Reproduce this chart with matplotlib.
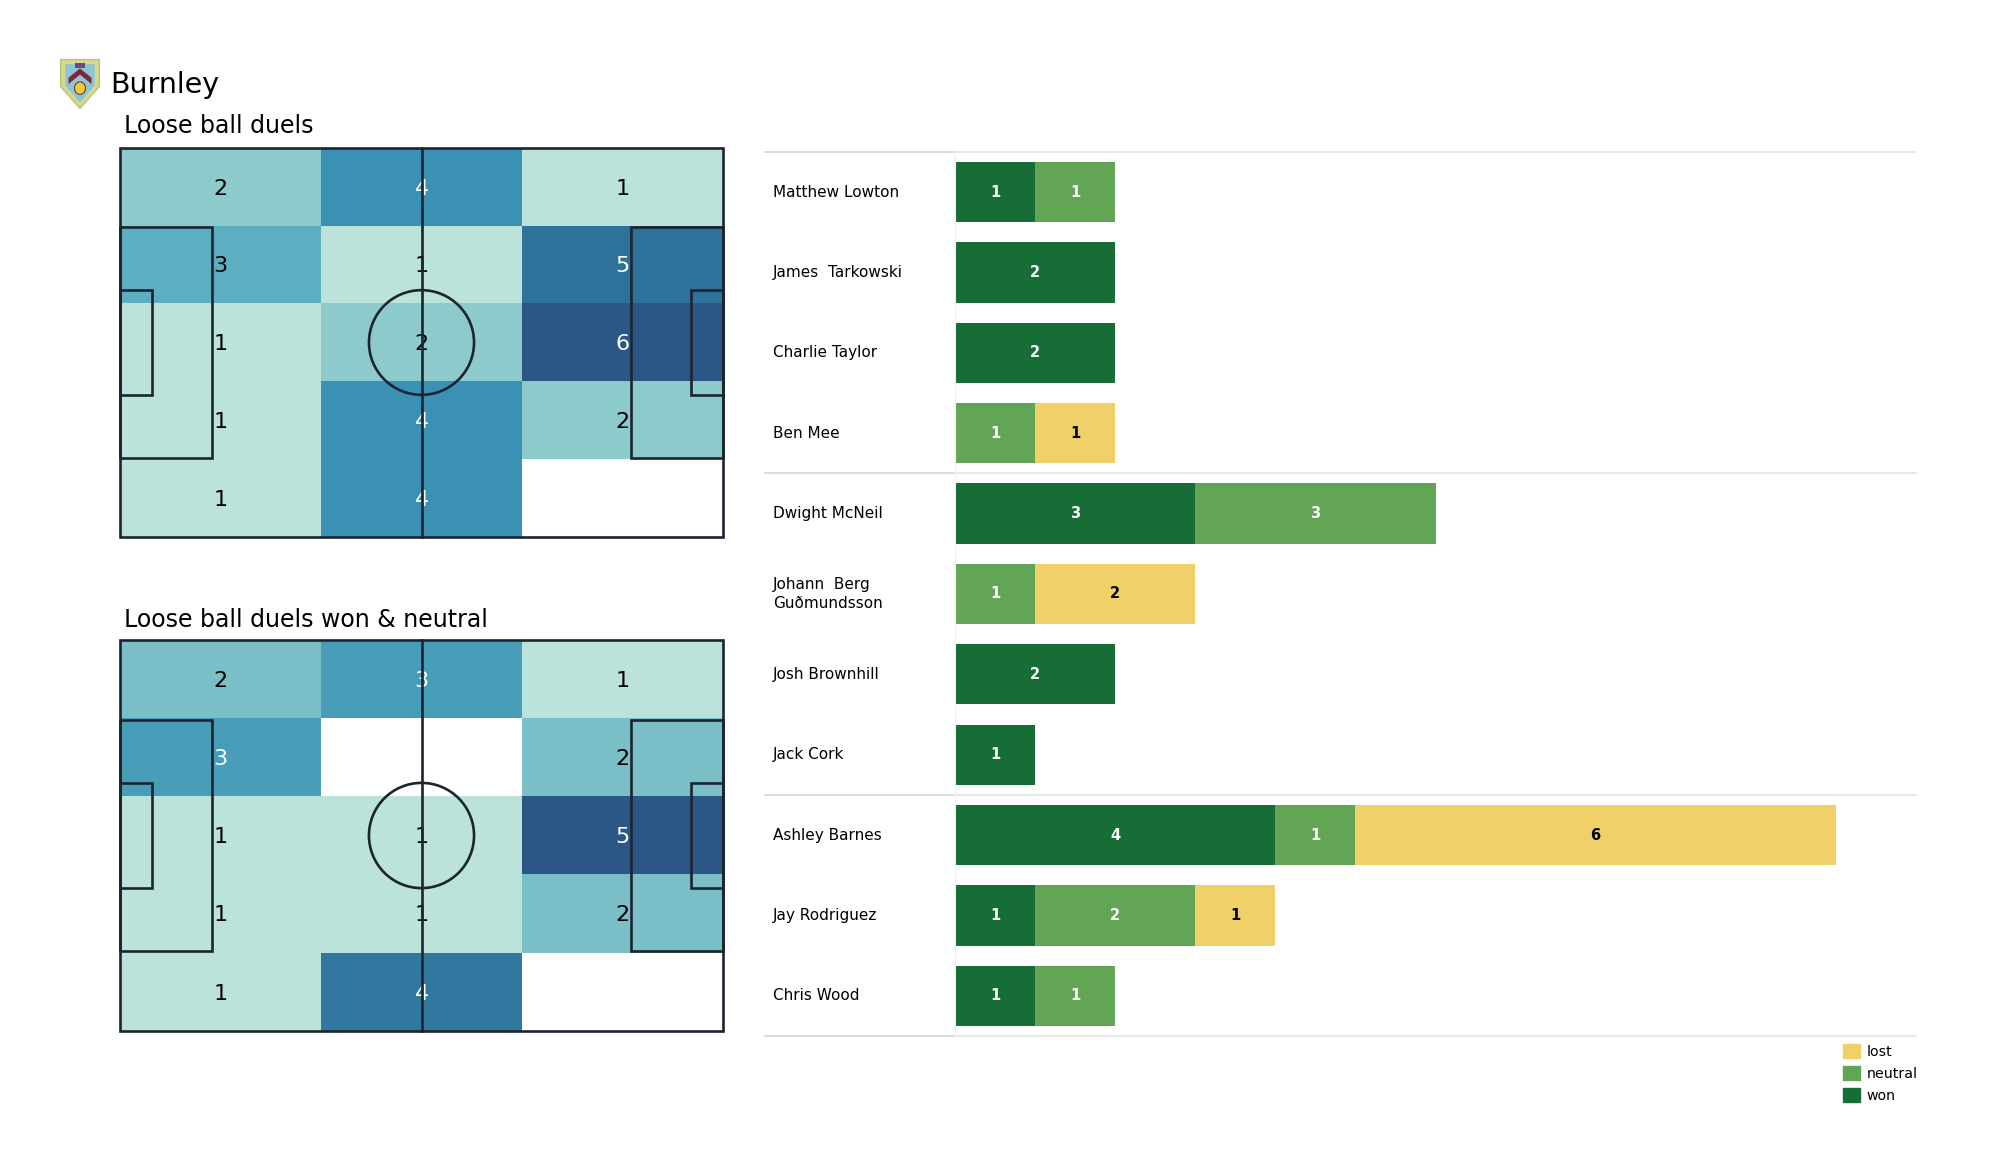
import matplotlib
matplotlib.use("Agg")
import matplotlib.pyplot as plt
import matplotlib.patches as mpatches
from matplotlib.colors import LinearSegmentedColormap
import numpy as np

# heatmap counts, rows top -> bottom, columns left -> right
duels_all = [[2, 4, 1],
             [3, 1, 5],
             [1, 2, 6],
             [1, 4, 2],
             [1, 4, 0]]
duels_won_neutral = [[2, 3, 1],
                     [3, 0, 2],
                     [1, 1, 5],
                     [1, 1, 2],
                     [1, 4, 0]]

players = ['Matthew Lowton', 'James  Tarkowski', 'Charlie Taylor', 'Ben Mee',
           'Dwight McNeil', 'Johann  Berg\nGuðmundsson', 'Josh Brownhill', 'Jack Cork',
           'Ashley Barnes', 'Jay Rodriguez', 'Chris Wood']
won = [1, 2, 2, 0, 3, 0, 2, 1, 4, 1, 1]
neutral = [1, 0, 0, 1, 3, 1, 0, 0, 1, 2, 1]
lost = [0, 0, 0, 1, 0, 2, 0, 0, 6, 1, 0]

team = 'Burnley'
titles = ['Loose ball duels', 'Loose ball duels won & neutral']

c_won, c_neutral, c_lost = '#166d36', '#62a655', '#f0d068'
cmap = LinearSegmentedColormap.from_list('duels', [
    (0.0, '#c2e7dd'), (0.2, '#bbe3d9'), (0.333, '#8ecbcc'), (0.5, '#5eafc1'),
    (0.667, '#3a91b3'), (0.833, '#2f729c'), (1.0, '#2b5786')])
cmap.set_bad('white')

fig = plt.figure(figsize=(20, 11.75), dpi=100)
W, H = 2000, 1175


def draw_pitch(ax):
    lc, lw = '#1c2430', 1.9
    kw = dict(fill=False, ec=lc, lw=lw, zorder=5, clip_on=False)
    ax.add_patch(mpatches.Rectangle((0, 0), 105, 68, **kw))
    ax.plot([52.5, 52.5], [0, 68], color=lc, lw=lw, zorder=5, clip_on=False)
    ax.add_patch(mpatches.Circle((52.5, 34), 9.15, **kw))
    for x0, sign in [(0, 1), (105, -1)]:
        ax.add_patch(mpatches.Rectangle((x0 if sign > 0 else x0 - 16, 34 - 20.16), 16, 40.32, **kw))
        ax.add_patch(mpatches.Rectangle((x0 if sign > 0 else x0 - 5.5, 34 - 9.16), 5.5, 18.32, **kw))


def heat(ax, grid):
    g = np.array(grid, dtype=float)
    norm_g = g / g.max()
    masked = np.ma.masked_where(g == 0, norm_g)
    ax.imshow(masked, cmap=cmap, vmin=0, vmax=1, extent=(0, 105, 0, 68),
              origin='upper', aspect='auto', interpolation='nearest', zorder=1)
    nr, nc = g.shape
    for r in range(nr):
        for c in range(nc):
            if g[r, c] == 0:
                continue
            x = (c + 0.5) * 105 / nc
            y = 68 - (r + 0.5) * 68 / nr
            col = 'white' if norm_g[r, c] > 0.55 else 'black'
            ax.text(x, y - 0.3, str(int(g[r, c])), ha='center', va='center',
                    fontsize=16, color=col, zorder=3)
    draw_pitch(ax)
    ax.set_xlim(0, 105)
    ax.set_ylim(0, 68)
    ax.axis('off')


for (top, bot), grid in zip([(148, 537), (640, 1031)], [duels_all, duels_won_neutral]):
    ax = fig.add_axes([120 / W, 1 - bot / H, 603 / W, (bot - top) / H])
    heat(ax, grid)

fig.text(110 / W, 1 - 85 / H, team, fontsize=20.5, ha='left', va='center')
fig.text(124 / W, 1 - 126 / H, titles[0], fontsize=17, ha='left', va='center')
fig.text(124 / W, 1 - 620 / H, titles[1], fontsize=17, ha='left', va='center')

# crest stand-in
lax = fig.add_axes([57 / W, 1 - 110 / H, 46 / W, 52 / H])
shield = [(0.08, 0.97), (0.92, 0.97), (0.92, 0.45), (0.5, 0.03), (0.08, 0.45)]
lax.add_patch(mpatches.Polygon(shield, closed=True, fc='#d9d98c', ec='#b9c27a', lw=1))
inner = [(0.18, 0.88), (0.82, 0.88), (0.82, 0.47), (0.5, 0.14), (0.18, 0.47)]
lax.add_patch(mpatches.Polygon(inner, closed=True, fc='#8fc3d9', ec='none'))
lax.add_patch(mpatches.Polygon([(0.25, 0.62), (0.5, 0.8), (0.75, 0.62), (0.75, 0.5),
                                (0.5, 0.68), (0.25, 0.5)], closed=True, fc='#7a2a3a', ec='none'))
lax.add_patch(mpatches.Circle((0.5, 0.42), 0.12, fc='#f0c93a', ec='#6e3a20', lw=0.8))
lax.add_patch(mpatches.Rectangle((0.4, 0.8), 0.2, 0.1, fc='#6b4a7a', ec='none'))
lax.set_xlim(0, 1)
lax.set_ylim(0, 1)
lax.axis('off')

# stacked bars
bx0, bx1, by0, by1 = 955, 1916, 152, 1036
bax = fig.add_axes([bx0 / W, 1 - by1 / H, (bx1 - bx0) / W, (by1 - by0) / H])
y = np.arange(len(players))
won_a, neu_a, lost_a = np.array(won), np.array(neutral), np.array(lost)
bh = 0.75
bax.barh(y, won_a, height=bh, color=c_won, label='won')
bax.barh(y, neu_a, left=won_a, height=bh, color=c_neutral, label='neutral')
bax.barh(y, lost_a, left=won_a + neu_a, height=bh, color=c_lost, label='lost')
for i in range(len(players)):
    left = 0
    for val, tc in [(won[i], 'white'), (neutral[i], 'white'), (lost[i], 'black')]:
        if val > 0:
            bax.text(left + val / 2, i, str(val), ha='center', va='center',
                     fontsize=10.5, fontweight='bold', color=tc)
        left += val
    bax.text(-0.1894, i, players[i], transform=bax.get_yaxis_transform(),
             ha='left', va='center', fontsize=11, linespacing=1.35)

bax.set_xlim(0, 12)
bax.set_ylim(len(players) - 0.5, -0.5)
for yl in [-0.5, 3.5, 7.5, 10.5]:
    bax.plot([-0.198, 0], [yl, yl], transform=bax.get_yaxis_transform(),
             color='#d4d4d4', lw=1.2, clip_on=False)
    bax.plot([0, 1], [yl, yl], transform=bax.get_yaxis_transform(),
             color='#e4e4e4', lw=1.2, clip_on=False)
for s in ['top', 'right', 'bottom']:
    bax.spines[s].set_visible(False)
bax.spines['left'].set_color('#f0f0f0')
bax.set_xticks([])
bax.set_yticks([])

handles = [mpatches.Patch(color=c_lost, label='lost'),
           mpatches.Patch(color=c_neutral, label='neutral'),
           mpatches.Patch(color=c_won, label='won')]
fig.legend(handles=handles, loc='upper left', bbox_to_anchor=(1843 / W, 1 - 1044 / H),
           frameon=False, fontsize=10.2, handlelength=1.2, handleheight=1.15,
           handletextpad=0.45, labelspacing=0.5, borderpad=0, borderaxespad=0)

fig.savefig('out.png', dpi=100, facecolor='white')
